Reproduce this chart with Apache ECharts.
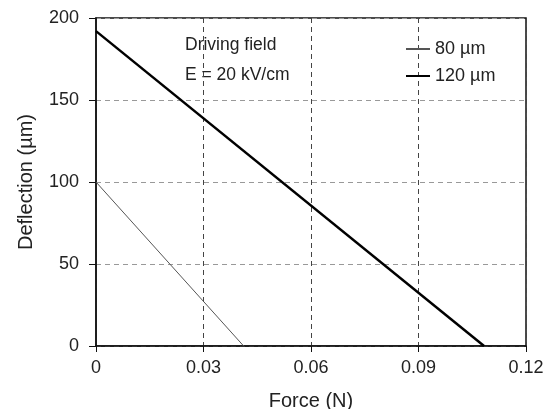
<!DOCTYPE html>
<html>
<head>
<meta charset="utf-8">
<script src="https://cdn.jsdelivr.net/npm/echarts@6/dist/echarts.min.js"></script>
<style>
  html, body { margin: 0; padding: 0; background: #fff; }
  #chart { width: 548px; height: 409px; }
</style>
</head>
<body>
<div id="chart"></div>
<script>
// Deflection vs force, driving field E = 20 kV/cm
var xTicks = [0, 0.03, 0.06, 0.09, 0.12];
var force80 = [0, 0.0412];
var defl80 = [100, 0];
var force120 = [0, 0.1083];
var defl120 = [192, 0];

function pairs(xs, ys) {
  return xs.map(function(x, i) { return [x, ys[i]]; });
}

var font = 'Liberation Sans, Arial, sans-serif';

echarts.init(document.getElementById('chart')).setOption({
  animation: false,
  backgroundColor: '#fff',
  grid: {
    left: 96,
    right: 22,
    top: 18,
    bottom: 63,
    outerBoundsMode: 'none',
    containLabel: false,
    show: true,
    borderColor: '#111',
    borderWidth: 1.5
  },
  xAxis: {
    type: 'value',
    min: 0,
    max: 0.12,
    interval: 0.03,
    name: 'Force (N)',
    nameLocation: 'middle',
    nameGap: 45,
    nameTextStyle: { fontFamily: font, fontSize: 20, color: '#222' },
    axisLine: { lineStyle: { color: '#111', width: 1.5 } },
    axisTick: { show: true, length: 6, lineStyle: { color: '#111' } },
    axisLabel: {
      fontFamily: font, fontSize: 18, color: '#222', margin: 13,
      formatter: function(v) { return xTicks.indexOf(+v.toFixed(2)) >= 0 ? String(+v.toFixed(2)) : ''; }
    },
    splitLine: { show: true, lineStyle: { color: '#444', type: [5, 4], width: 1 } }
  },
  yAxis: {
    type: 'value',
    min: 0,
    max: 200,
    interval: 50,
    name: 'Deflection (µm)',
    nameLocation: 'middle',
    nameGap: 60,
    nameTextStyle: { fontFamily: font, fontSize: 20, color: '#222' },
    axisLine: { show: true, lineStyle: { color: '#111', width: 1.5 } },
    axisTick: { show: true, length: 7, lineStyle: { color: '#111' } },
    axisLabel: { fontFamily: font, fontSize: 18, color: '#222', margin: 17 },
    splitLine: { show: true, lineStyle: { color: '#999', type: [5, 4], width: 1 } }
  },
  legend: {
    orient: 'vertical',
    left: 400,
    top: 35,
    itemWidth: 24,
    itemHeight: 10,
    itemGap: 9,
    itemStyle: { opacity: 0 },
    textStyle: { fontFamily: font, fontSize: 18, color: '#222' },
    data: ['80 µm', '120 µm']
  },
  graphic: [
    { type: 'text', left: 185, top: 36, style: { text: 'Driving field', font: '17.5px ' + font, fill: '#222' } },
    { type: 'text', left: 185, top: 66, style: { text: 'E = 20 kV/cm', font: '17.5px ' + font, fill: '#222' } }
  ],
  series: [
    {
      name: '80 µm',
      type: 'line',
      symbol: 'none',
      color: '#666',
      lineStyle: { width: 1, color: '#555' },
      data: pairs(force80, defl80)
    },
    {
      name: '120 µm',
      type: 'line',
      symbol: 'none',
      color: '#000',
      lineStyle: { width: 2.5, color: '#000' },
      data: pairs(force120, defl120)
    }
  ]
});
</script>
</body>
</html>
